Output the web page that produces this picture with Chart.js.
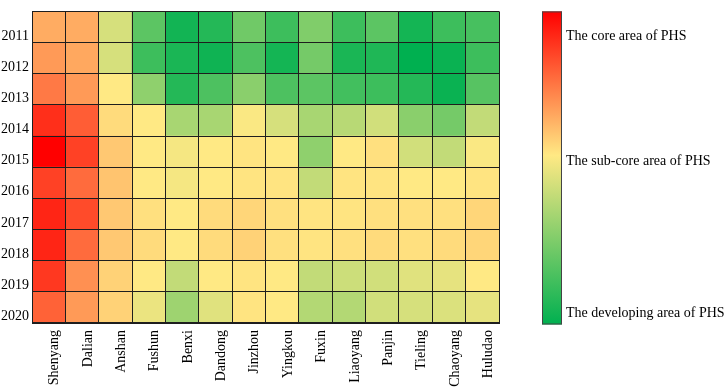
<!DOCTYPE html>
<html lang="en">
  <head>
    <meta charset="UTF-8" />
    <title>PHS heatmap</title>
    <script src="https://cdn.jsdelivr.net/npm/chart.js@4.4.1/dist/chart.umd.min.js"></script>
    <style>
      body { margin: 0; background: #fff; }
      .chart-view { width: 726px; height: 387px; }
    </style>
  </head>
  <body>
    <div class="chart-view">
      <canvas id="chart"></canvas>
    </div>

    <script>
      const cities = ['Shenyang', 'Dalian', 'Anshan', 'Fushun', 'Benxi', 'Dandong', 'Jinzhou',
        'Yingkou', 'Fuxin', 'Liaoyang', 'Panjin', 'Tieling', 'Chaoyang', 'Huludao'];
      const years = ['2011', '2012', '2013', '2014', '2015', '2016', '2017', '2018', '2019', '2020'];

      // 0 = developing (green), 0.5 = sub-core (yellow), 1 = core (red)
      const v2011 = [0.63, 0.63, 0.42, 0.18, 0.035, 0.07, 0.22, 0.12, 0.25, 0.12, 0.18, 0.04, 0.12, 0.14];
      const v2012 = [0.67, 0.64, 0.42, 0.12, 0.05, 0.03, 0.15, 0.04, 0.23, 0.05, 0.06, 0.0, 0.02, 0.12];
      const v2013 = [0.74, 0.67, 0.5, 0.28, 0.07, 0.15, 0.27, 0.15, 0.18, 0.13, 0.12, 0.07, 0.02, 0.17];
      const v2014 = [0.9, 0.8, 0.53, 0.5, 0.33, 0.33, 0.49, 0.42, 0.33, 0.36, 0.41, 0.27, 0.23, 0.38];
      const v2015 = [1.0, 0.86, 0.57, 0.5, 0.48, 0.5, 0.51, 0.5, 0.28, 0.5, 0.52, 0.41, 0.38, 0.49];
      const v2016 = [0.86, 0.77, 0.58, 0.5, 0.48, 0.5, 0.51, 0.51, 0.38, 0.51, 0.51, 0.5, 0.5, 0.51];
      const v2017 = [0.92, 0.84, 0.57, 0.52, 0.5, 0.53, 0.54, 0.52, 0.51, 0.51, 0.52, 0.52, 0.52, 0.54];
      const v2018 = [0.92, 0.77, 0.57, 0.53, 0.5, 0.53, 0.55, 0.52, 0.51, 0.52, 0.53, 0.52, 0.53, 0.54];
      const v2019 = [0.88, 0.69, 0.55, 0.5, 0.38, 0.5, 0.51, 0.5, 0.38, 0.4, 0.41, 0.44, 0.45, 0.5];
      const v2020 = [0.79, 0.67, 0.55, 0.46, 0.31, 0.44, 0.51, 0.5, 0.35, 0.35, 0.41, 0.42, 0.43, 0.45];
      const rows = [v2011, v2012, v2013, v2014, v2015, v2016, v2017, v2018, v2019, v2020];

      const legendLabels = ['The core area of PHS', 'The sub-core area of PHS', 'The developing area of PHS'];

      const RED = [255, 0, 0];
      const YELLOW = [255, 233, 132];
      const GREEN = [0, 176, 80];
      const FONT = "'Liberation Serif', 'Times New Roman', serif";

      function mix(a, b, t) {
        return a.map((c, i) => Math.round(c + (b[i] - c) * t));
      }
      function colorFor(v) {
        const c = v >= 0.5 ? mix(YELLOW, RED, (v - 0.5) / 0.5) : mix(GREEN, YELLOW, v / 0.5);
        return 'rgb(' + c.join(',') + ')';
      }

      // stacked from the bottom: 2020 first
      const datasets = rows.slice().reverse().map((row, i) => ({
        label: years[years.length - 1 - i],
        data: row.map(() => 1),
        backgroundColor: row.map(colorFor),
        borderWidth: 0,
        barPercentage: 1,
        categoryPercentage: 1
      }));

      //colorbar
      const colorbar = {
        id: 'colorbar',
        afterDraw(chart) {
          const { ctx, chartArea } = chart;
          const x = chartArea.right + 43;
          const w = 20;
          const top = chartArea.top;
          const bottom = chartArea.bottom + 1.5;
          const g = ctx.createLinearGradient(0, top, 0, bottom);
          g.addColorStop(0, 'rgb(255,0,0)');
          g.addColorStop(0.46, 'rgb(255,233,132)');
          g.addColorStop(1, 'rgb(0,176,80)');
          ctx.save();
          ctx.fillStyle = g;
          ctx.fillRect(x, top, w, bottom - top);
          ctx.strokeStyle = '#444';
          ctx.lineWidth = 1;
          ctx.strokeRect(x + 0.5, top + 0.5, w - 1, bottom - top - 1);
          ctx.fillStyle = '#000';
          ctx.font = '14px ' + FONT;
          ctx.textAlign = 'left';
          ctx.textBaseline = 'alphabetic';
          ctx.fillText(legendLabels[0], x + 24, top + 29);
          ctx.fillText(legendLabels[1], x + 24, top + 154);
          ctx.fillText(legendLabels[2], x + 24, bottom - 8);
          ctx.restore();
        }
      };

      //config
      const config = {
        type: 'bar',
        data: { labels: cities, datasets: datasets },
        options: {
          responsive: true,
          maintainAspectRatio: false,
          animation: false,
          layout: { autoPadding: false, padding: { top: 3, right: 227, left: 0, bottom: 0 } },
          plugins: { legend: { display: false }, tooltip: { enabled: false } },
          scales: {
            x: {
              stacked: true,
              offset: true,
              grid: { display: true, offset: true, color: '#1e1e1e', lineWidth: 1, drawTicks: false, z: 1 },
              border: { display: true, color: '#1e1e1e', z: 1 },
              ticks: {
                color: '#000',
                font: { family: FONT, size: 14 },
                minRotation: 90,
                maxRotation: 90,
                autoSkip: false,
                padding: 7,
                labelOffset: 6
              },
              afterFit(scale) { scale.height = 64; }
            },
            y: {
              stacked: true,
              display: false,
              min: 0,
              max: 10
            },
            yr: {
              type: 'category',
              labels: years,
              position: 'left',
              offset: true,
              grid: { display: true, offset: true, color: '#1e1e1e', lineWidth: 1, drawTicks: false, z: 1 },
              border: { display: true, color: '#1e1e1e', z: 1 },
              ticks: {
                color: '#000',
                font: { family: FONT, size: 14 },
                padding: 3,
                labelOffset: 9,
                autoSkip: false
              },
              afterFit(scale) { scale.width = 32; }
            }
          }
        },
        plugins: [colorbar]
      };

      //init
      const ctx = document.getElementById('chart');
      const chart = new Chart(ctx, config);
    </script>
  </body>
</html>
